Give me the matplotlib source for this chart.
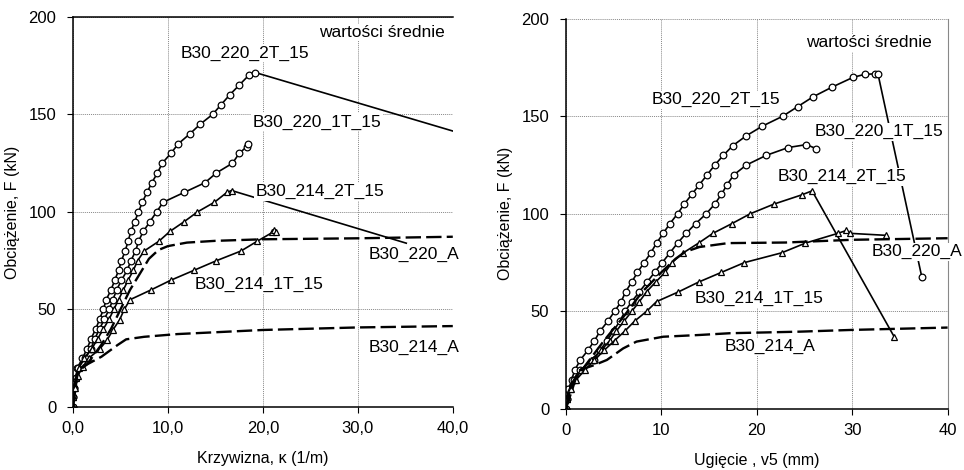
import matplotlib
matplotlib.use("Agg")
import matplotlib.pyplot as plt

plt.rcParams['font.family'] = ['Liberation Sans', 'DejaVu Sans']

# ---- left panel: curvature kappa (1/m) vs load F (kN) ----
F_220_2T = [0, 5, 10, 15, 20, 25, 30, 35, 40, 45, 50, 55, 60, 65, 70, 75, 80, 85, 90, 95,
            100, 105, 110, 115, 120, 125, 130, 135, 140, 145, 150, 155, 160, 165, 170, 171.5, 141.5]
k_220_2T = [0, 0, 0.1, 0.3, 0.45, 1.0, 1.5, 1.9, 2.4, 2.8, 3.2, 3.5, 4.0, 4.4, 4.8, 5.1, 5.5, 5.8, 6.1, 6.5,
            6.9, 7.3, 7.8, 8.3, 8.9, 9.4, 10.3, 11.1, 12.3, 13.4, 14.7, 15.6, 16.5, 17.5, 18.5, 19.2, 40.0]

F_220_1T = [0, 5, 10, 15, 20, 25, 30, 35, 40, 45, 50, 55, 60, 65, 70, 75, 80, 85, 90, 95,
            100, 105, 110, 115, 120, 125, 130, 133.5, 135]
k_220_1T = [0, 0.05, 0.1, 0.3, 0.5, 1.3, 1.9, 2.3, 2.8, 3.3, 3.8, 4.2, 4.6, 5.1, 5.7, 6.1, 6.6, 6.9, 7.4, 8.1,
            8.8, 9.5, 11.7, 13.9, 15.1, 16.8, 17.5, 18.3, 18.4]

F_214_2T = [0, 5, 10, 15, 20, 25, 30, 35, 40, 45, 50, 55, 60, 65, 70, 75, 80, 85, 90, 95,
            100, 105, 110, 111, 84]
k_214_2T = [0, 0.05, 0.1, 0.3, 0.6, 1.2, 2.0, 2.6, 3.2, 3.8, 4.3, 4.8, 5.3, 5.8, 6.35, 6.8, 7.5, 9.05, 10.2, 11.7,
            13.1, 14.9, 16.2, 16.7, 35.1]

F_214_1T = [0, 5, 10, 16, 20.7, 25, 29.6, 34.4, 39.5, 44.6, 50, 55, 60, 65, 70, 75, 80, 85, 89.5, 91, 89.5]
k_214_1T = [0, 0.05, 0.2, 0.5, 1.05, 1.65, 2.8, 3.6, 4.2, 4.9, 5.4, 6.0, 8.2, 10.3, 12.7, 15.1, 17.7, 19.4, 21.0, 21.2, 21.4]

F_220_A = [0, 18, 22, 32, 40, 50, 60, 68, 76, 80.5, 82.5, 84.3, 85.2, 86, 86.5, 87.3]
k_220_A = [0, 0.5, 1.5, 3.0, 4.0, 5.0, 6.0, 7.0, 8.0, 9.0, 10.0, 12.0, 15.0, 20.0, 30.0, 40.0]

F_214_A = [0, 14, 19.8, 25.8, 31.8, 34.7, 36, 37.4, 39.5, 40.8, 41.5]
k_214_A = [0, 0.3, 0.7, 3.0, 4.7, 5.6, 7.5, 11.0, 20.0, 30.0, 40.0]

# ---- right panel: deflection v5 (mm) vs load F (kN) ----
F_220_2T_v = [0, 5, 10, 15, 20, 25, 30, 35, 40, 45, 50, 55, 60, 65, 70, 75, 80, 85, 90, 95,
              100, 105, 110, 115, 120, 125, 130, 135, 140, 145, 150, 155, 160, 165, 170, 171.5, 171.8, 171.8, 67.5]
v_220_2T = [0, 0.1, 0.3, 0.6, 0.95, 1.5, 2.3, 3.0, 3.6, 4.4, 5.1, 5.8, 6.25, 6.9, 7.5, 8.2, 8.9, 9.5, 10.2, 10.9,
            11.7, 12.4, 13.2, 14.0, 14.8, 15.6, 16.5, 17.5, 18.9, 20.6, 22.7, 24.3, 25.9, 27.9, 30.1, 31.3, 32.4, 32.7, 37.3]

F_220_1T_v = [0, 5, 10, 15, 20, 25, 30, 35, 40, 45, 50, 55, 60, 65, 70, 75, 80, 85, 90, 95,
              100, 105, 110, 115, 120, 125, 130, 134, 135.5, 133.5]
v_220_1T = [0, 0.1, 0.25, 0.8, 1.5, 2.9, 3.6, 4.3, 5.0, 5.65, 6.2, 6.9, 7.7, 8.5, 9.3, 10.1, 10.9, 11.7, 12.6, 13.6,
            14.7, 15.6, 16.3, 16.9, 17.6, 18.9, 21.0, 23.3, 25.2, 26.2]

F_214_2T_v = [0, 5, 10, 15, 20, 25, 30, 35, 40, 45, 50, 55, 60, 65, 70, 75, 80, 85, 90, 95,
              100, 105, 109.7, 111.8, 37]
v_214_2T = [0, 0.1, 0.4, 1.0, 1.6, 2.6, 3.7, 4.6, 5.3, 6.1, 6.9, 7.7, 8.45, 9.4, 10.4, 11.1, 12.3, 13.9, 15.4, 17.4,
            19.3, 21.8, 24.7, 25.8, 34.4]

F_214_1T_v = [0, 5, 10, 15, 20, 25, 30, 35, 40, 45, 50, 55, 60, 65, 70, 75, 80, 85, 90, 91.5, 90, 89]
v_214_1T = [0, 0.15, 0.5, 1.1, 2.0, 3.0, 4.0, 5.1, 6.2, 7.2, 8.45, 9.5, 11.8, 13.9, 16.3, 18.7, 22.6, 25.1, 28.5, 29.4, 29.8, 33.5]

F_220_A_v = [0, 15, 22, 35, 47, 60, 70, 77, 80.5, 83, 85, 85.3, 86.7, 87.5]
v_220_A = [0, 1.0, 2.0, 4.0, 6.0, 8.0, 10.0, 11.5, 12.5, 14.0, 17.0, 23.0, 30.0, 40.0]

F_214_A_v = [0, 12, 20, 22.5, 25.1, 31, 34.5, 37, 37.9, 38.8, 39.6, 40.5, 41.7]
v_214_A = [0, 0.5, 1.5, 3.0, 4.3, 6.0, 7.4, 10.2, 14.0, 17.2, 24.5, 30.0, 40.0]

labels = ['B30_220_2T_15', 'B30_220_1T_15', 'B30_214_2T_15', 'B30_214_1T_15', 'B30_220_A', 'B30_214_A']

fig = plt.figure(figsize=(9.64, 4.70), dpi=100)
ax1 = fig.add_axes([0.0757, 0.134, 0.394, 0.830])
ax2 = fig.add_axes([0.587, 0.130, 0.396, 0.830])

circ = dict(color='black', lw=1.2, marker='o', ms=4.8, mfc='white', mec='black', mew=0.9)
tri = dict(color='black', lw=1.2, marker='^', ms=4.8, mfc='white', mec='black', mew=0.9)
dash = dict(color='black', lw=1.7, dashes=(6.5, 2.2))


def draw(ax, s, last_marker=True):
    # on the curvature plot the falling branch ends without a marker
    me = None if last_marker else slice(0, -1)
    ax.plot(s[0][0], s[0][1], markevery=me, **circ)
    ax.plot(s[1][0], s[1][1], **circ)
    ax.plot(s[2][0], s[2][1], markevery=me, **tri)
    ax.plot(s[3][0], s[3][1], **tri)
    ax.plot(s[4][0], s[4][1], **dash)
    ax.plot(s[5][0], s[5][1], **dash)


draw(ax1, [(k_220_2T, F_220_2T), (k_220_1T, F_220_1T), (k_214_2T, F_214_2T),
           (k_214_1T, F_214_1T), (k_220_A, F_220_A), (k_214_A, F_214_A)], last_marker=False)
draw(ax2, [(v_220_2T, F_220_2T_v), (v_220_1T, F_220_1T_v), (v_214_2T, F_214_2T_v),
           (v_214_1T, F_214_1T_v), (v_220_A, F_220_A_v), (v_214_A, F_214_A_v)])

for ax in (ax1, ax2):
    ax.set_xlim(0, 40)
    ax.set_ylim(0, 200)
    ax.set_yticks([0, 50, 100, 150, 200])
    ax.set_xticks([0, 10, 20, 30, 40])
    ax.grid(True, color='#888888', ls=(0, (1, 1)), lw=0.7)
    ax.set_axisbelow(True)
    ax.tick_params(direction='out', length=4, width=0.8, labelsize=12, pad=6)
    ax.tick_params(axis='y', pad=8)
    ax.spines['left'].set_linewidth(1.1)
    ax.spines['bottom'].set_linewidth(1.1)
    ax.set_ylabel('Obciążenie, F (kN)', fontsize=11.5, labelpad=6)

ax1.set_xticklabels(['0,0', '10,0', '20,0', '30,0', '40,0'])
ax1.spines['right'].set_visible(False)
ax1.spines['top'].set_linewidth(1.1)
ax1.set_xlabel('Krzywizna, κ (1/m)', fontsize=11.5, labelpad=11)

ax2.spines['top'].set_visible(False)
ax2.spines['right'].set_color('#888888')
ax2.spines['right'].set_linewidth(0.8)
ax2.set_xlabel('Ugięcie , v5 (mm)', fontsize=11.5, labelpad=11)

box = dict(facecolor='white', edgecolor='none', pad=1)
tk = dict(fontsize=12.5, va='center', bbox=box, zorder=10, clip_on=False)

ax1.text(39.2, 192, 'wartości średnie', ha='right', **tk)
ax1.text(11.3, 181.5, labels[0], ha='left', **tk)
ax1.text(18.9, 146, labels[1], ha='left', **tk)
ax1.text(19.2, 110.3, labels[2], ha='left', **tk)
ax1.text(26.4, 62.6, labels[3], ha='right', **tk)
ax1.text(31.1, 78, labels[4], ha='left', **tk)
ax1.text(31.1, 30.8, labels[5], ha='left', **tk)

ax2.text(38.3, 187.7, 'wartości średnie', ha='right', **tk)
ax2.text(9.0, 158.5, labels[0], ha='left', **tk)
ax2.text(26.1, 142, labels[1], ha='left', **tk)
ax2.text(22.2, 119, labels[2], ha='left', **tk)
ax2.text(27.0, 56.4, labels[3], ha='right', **tk)
ax2.text(32.0, 80.5, labels[4], ha='left', **tk)
ax2.text(16.6, 31.8, labels[5], ha='left', **tk)

fig.savefig('out.png', dpi=100)
